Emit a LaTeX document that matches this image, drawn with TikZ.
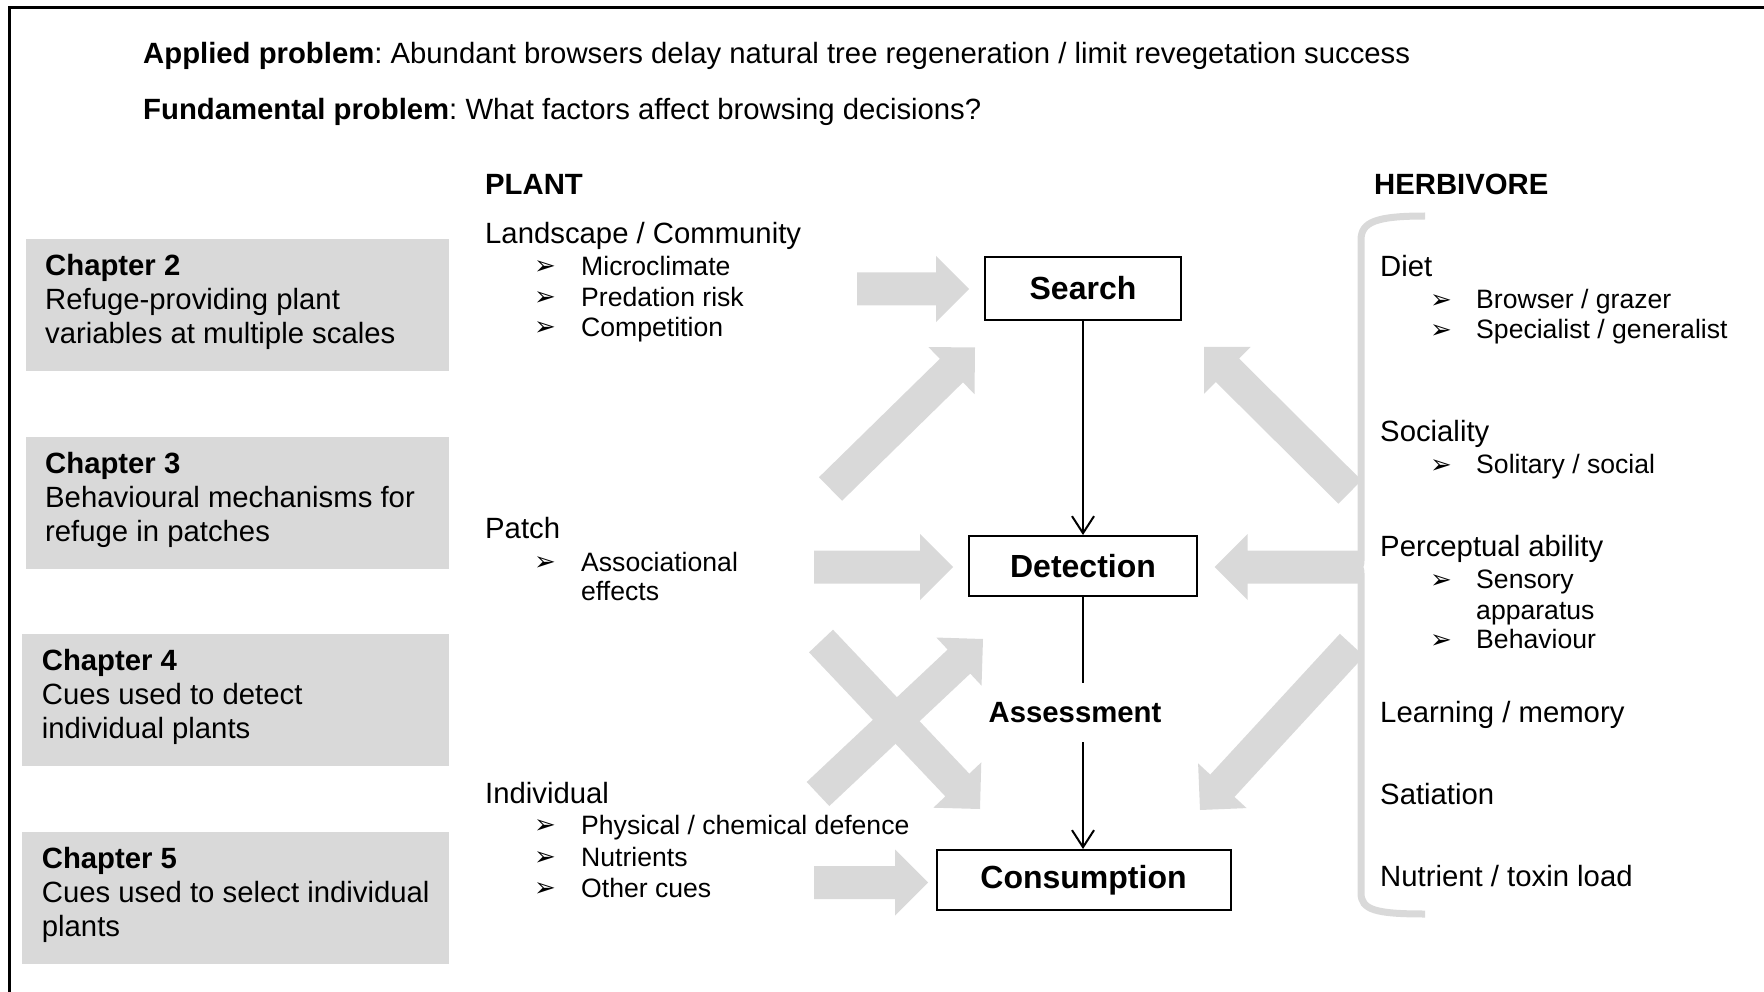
\documentclass[tikz,border=0pt]{standalone}
\usepackage{fontspec}
\setmainfont{Liberation Sans}
\newfontfamily\dejavu{DejaVu Sans}
\usetikzlibrary{arrows.meta,calc}
\definecolor{lgray}{HTML}{D9D9D9}
\frenchspacing
\newcommand\bigarr[2]{%
  \coordinate (ba) at ($(#2)!33pt!(#1)$);
  \fill[lgray] ($(#1)!16.5pt!90:(#2)$) -- ($(ba)!16.5pt!-90:(#1)$) -- ($(ba)!33pt!-90:(#1)$) -- (#2)
     -- ($(ba)!33pt!90:(#1)$) -- ($(ba)!16.5pt!90:(#1)$) -- ($(#1)!16.5pt!-90:(#2)$) -- cycle;
}
\begin{document}
\begin{tikzpicture}[x=1pt,y=-1pt,
  every node/.style={inner sep=0pt, font=\fontsize{29.3}{34}\selectfont},
  txt/.style={anchor=west, text height=21pt, text depth=6pt, yshift=-3pt},
  itm/.style={txt, font=\fontsize{26.6}{30}\selectfont},
  hd/.style={txt, font=\fontsize{29.3}{34}\selectfont\bfseries},
  bul/.style={anchor=west, yshift=-3pt, font=\dejavu\fontsize{26}{26}\selectfont},
  chbox/.style={fill=lgray, anchor=north west, minimum height=132pt},
  chtxt/.style={anchor=west, align=left},
  stage/.style={draw, line width=2pt, font=\fontsize{32}{36}\selectfont\bfseries},
  flow/.style={line width=2pt, -{Straight Barb[length=17pt,width=22pt,line width=2pt]}},
  brk/.style={draw=lgray, line width=7pt},
]
\useasboundingbox (0,0) rectangle (1764,992);
% frame
\draw[line width=3pt] (9,995) -- (9,8) -- (1767,8);

% header
\node[txt] (applied) at (143,53) {\textbf{Applied problem}: Abundant browsers delay natural tree regeneration / limit revegetation success};
\node[txt] (fund) at (143,109) {\textbf{Fundamental problem}: What factors affect browsing decisions?};
\node[hd] (plant) at (485,184.5) {PLANT};
\node[hd] (herb) at (1374,184.5) {HERBIVORE};

% chapter boxes
\node[chbox, minimum width=423pt] (c2box) at (26,239) {};
\node[chtxt] (c2) at ($(c2box.west)+(19,-3)$) {\textbf{Chapter 2}\\Refuge-providing plant\\variables at multiple scales};
\node[chbox, minimum width=423pt] (c3box) at (26,437) {};
\node[chtxt] (c3) at ($(c3box.west)+(19,-3)$) {\textbf{Chapter 3}\\Behavioural mechanisms for\\refuge in patches};
\node[chbox, minimum width=427pt] (c4box) at (22,634) {};
\node[chtxt] (c4) at ($(c4box.west)+(19.7,-3)$) {\textbf{Chapter 4}\\Cues used to detect\\individual plants};
\node[chbox, minimum width=427pt] (c5box) at (22,832) {};
\node[chtxt] (c5) at ($(c5box.west)+(19.7,-3)$) {\textbf{Chapter 5}\\Cues used to select individual\\plants};

% big gray arrows
\coordinate (t1) at (857,289);   \coordinate (h1) at (969,289);
\coordinate (t2) at (830.5,489); \coordinate (h2) at (975,347.5);
\coordinate (t3) at (814,567);   \coordinate (h3) at (953,567);
\coordinate (t4) at (821,641);   \coordinate (h4) at (980,809);
\coordinate (t5) at (818,794);   \coordinate (h5) at (983,639);
\coordinate (t6) at (814,882.5); \coordinate (h6) at (928,882.5);
\coordinate (t7) at (1350,492);  \coordinate (h7) at (1204,347);
\coordinate (t8) at (1361,567);  \coordinate (h8) at (1214.5,567);
\coordinate (t9) at (1352,645);  \coordinate (h9) at (1200,810);
\bigarr{t1}{h1}
\bigarr{t2}{h2}
\bigarr{t3}{h3}
\bigarr{t4}{h4}
\bigarr{t5}{h5}
\bigarr{t6}{h6}
\bigarr{t7}{h7}
\bigarr{t8}{h8}
\bigarr{t9}{h9}

% bracket
\draw[brk] (1425,216) .. controls (1376,216) and (1361,222) .. (1361,240) -- (1361,560)
  .. controls (1361,565) .. (1357,567) .. controls (1361,569) .. (1361,574) -- (1361,893)
  .. controls (1361,910) and (1376,914) .. (1425,914);

% plant side
\node[txt] (land) at (485,233.3) {Landscape / Community};
\node[bul] (b1) at (534,265) {➢};
\node[itm] (micro) at (581,265) {Microclimate};
\node[bul] (b2) at (534,295.7) {➢};
\node[itm] (pred) at (581,295.7) {Predation risk};
\node[bul] (b3) at (534,326) {➢};
\node[itm] (comp) at (581,326) {Competition};
\node[txt] (patch) at (485,528.3) {Patch};
\node[bul] (b4) at (534,560.7) {➢};
\node[itm] (assoc) at (581,560.7) {Associational};
\node[itm] (effects) at (581,590) {effects};
\node[txt] (indiv) at (485,792.7) {Individual};
\node[bul] (b5) at (534,824) {➢};
\node[itm] (phys) at (581,824) {Physical / chemical defence};
\node[bul] (b6) at (534,856) {➢};
\node[itm] (nutr) at (581,856) {Nutrients};
\node[bul] (b7) at (534,886.7) {➢};
\node[itm] (other) at (581,886.7) {Other cues};

% herbivore side
\node[txt] (diet) at (1380,266) {Diet};
\node[bul] (b8) at (1430,298.3) {➢};
\node[itm] (brow) at (1476,298.3) {Browser / grazer};
\node[bul] (b9) at (1430,328.3) {➢};
\node[itm] (spec) at (1476,328.3) {Specialist / generalist};
\node[txt] (soc) at (1380,430.7) {Sociality};
\node[bul] (b10) at (1430,463.3) {➢};
\node[itm] (soli) at (1476,463.3) {Solitary / social};
\node[txt] (perc) at (1380,546) {Perceptual ability};
\node[bul] (b11) at (1430,578.3) {➢};
\node[itm] (sens) at (1476,578.3) {Sensory};
\node[itm] (appa) at (1476,609) {apparatus};
\node[bul] (b12) at (1430,638.3) {➢};
\node[itm] (behav) at (1476,638.3) {Behaviour};
\node[txt] (learn) at (1380,711.7) {Learning / memory};
\node[txt] (sati) at (1380,794.3) {Satiation};
\node[txt] (load) at (1380,876) {Nutrient / toxin load};

% stages
\node[stage, minimum width=196pt, minimum height=62pt] (search) at (1083,288.5) {Search};
\node[stage, minimum width=228pt, minimum height=60pt] (detect) at (1083,566) {Detection};
\node[stage, minimum width=294pt, minimum height=60pt] (consum) at (1083.5,880) {Consumption};
\node[font=\fontsize{29.3}{34}\selectfont\bfseries, minimum height=59pt] (assess) at (1075,712.5) {Assessment};

\draw[flow] (search.south) -- (detect.north);
\draw[line width=2pt] (detect.south) -- (detect.south |- assess.north);
\draw[flow] (detect.south |- assess.south) -- (detect.south |- consum.north);
\end{tikzpicture}
\end{document}
